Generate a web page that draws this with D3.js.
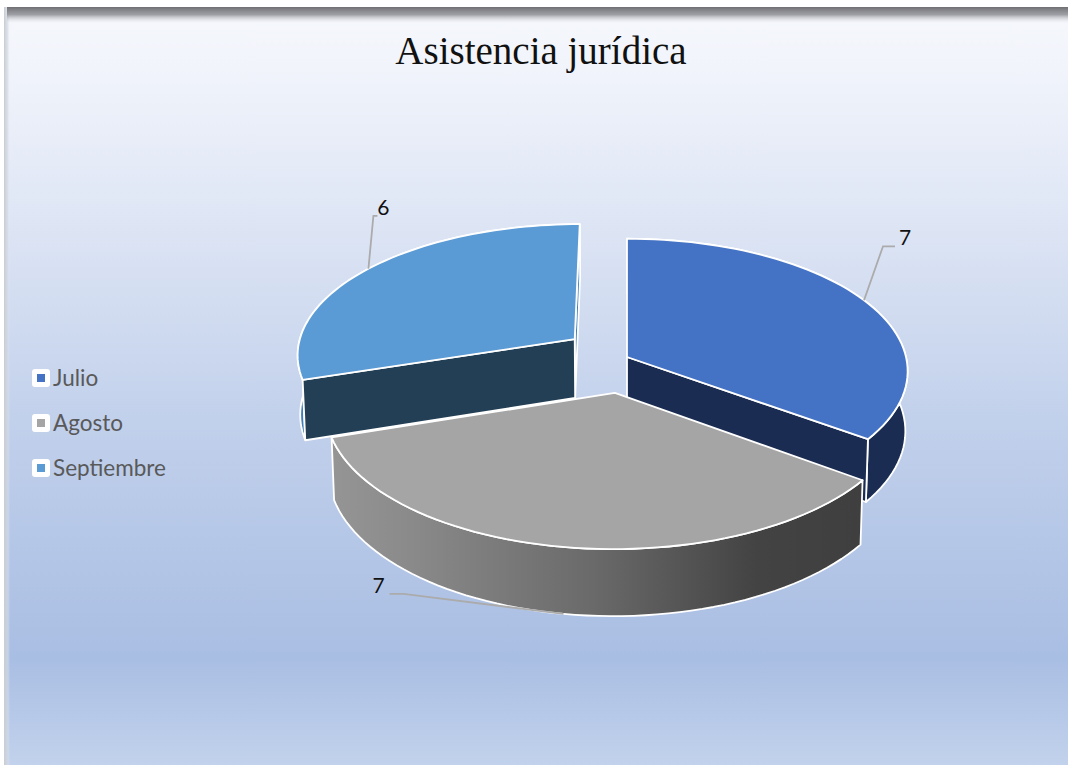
<!DOCTYPE html>
<html>
<head>
<meta charset="utf-8">
<script src="https://d3js.org/d3.v7.min.js"></script>
<style>
    html, body { margin: 0; padding: 0; background: #fff; }
    svg { display: block; }
    text { font-family: Lato, "Open Sans", sans-serif; }
</style>
</head>
<body>
<script>
// DATA ///////////////////////////////////////////////////
const title = "Asistencia jurídica";
const months = ["Julio", "Agosto", "Septiembre"];
const values = [7, 7, 6];

// STYLE / LAYOUT /////////////////////////////////////////
const width = 1068, height = 765;
const topColors = ["#4472C4", "#A5A5A5", "#5B9BD5"];
const wallColors = ["#1A2C52", "#4a4a4a", "#233F55"];
const sideColors = ["#1A2C52", "url(#graySide)", "#3F7FB8"];
const explode = [0, 0.27, 0.235];
const drawOrder = [2, 0, 1];

// pixel offsets from the slice anchor: elbow, line end, label centre
const leaders = [
    { elbow: [19, -54], end: [31, -54], label: [41, -64], z: 0 },
    { elbow: [-160, -20], end: [-174, -20], label: [-185, -29], z: 1 },
    { elbow: [5, -53], end: [9, -53], label: [15, -62], z: 0 }
];

// 3D PROJECTION //////////////////////////////////////////
const cx = 627, cy = 357, rx = 279, ry = 131, depth = 60;
const persp = 0.1075, perspZ = 0.008;

function project(X, Y, Z) {
    const s = 1 / (1 + persp * Y + perspZ * Z);
    return [cx + X * rx * s, cy - Y * ry * s + Z * depth * s];
}

const svg = d3.select("body").append("svg")
    .attr("width", width)
    .attr("height", height);

// BACKGROUND /////////////////////////////////////////////
const defs = svg.append("defs");

function gradient(id, x2, y2, stops) {
    const g = defs.append("linearGradient").attr("id", id)
        .attr("x1", 0).attr("y1", 0).attr("x2", x2).attr("y2", y2);
    stops.forEach(s => g.append("stop").attr("offset", s[0]).attr("stop-color", s[1])
        .attr("stop-opacity", s[2] === undefined ? 1 : s[2]));
}

gradient("bg", 0, 1, [[0, "#F6F8FC"], [0.08, "#F1F4FB"], [0.3, "#DCE4F4"], [0.55, "#C1D0EB"], [0.86, "#A9BEE3"], [1, "#C2D2EC"]]);
gradient("topShade", 0, 1, [[0, "#707074"], [0.45, "#8f9096", 0.85], [1, "#F1F4FB", 0]]);
gradient("leftShade", 1, 0, [[0, "#C9CDD2"], [0.6, "#D4D9E2", 0.7], [1, "#E8ECF6", 0]]);
gradient("graySide", 1, 0, [[0, "#959595"], [0.15, "#8a8a8a"], [0.5, "#696969"], [0.8, "#434343"], [1, "#3f3f3f"]]);

svg.append("rect").attr("x", 4).attr("y", 7).attr("width", width - 4).attr("height", height - 7).attr("fill", "url(#bg)");
svg.append("rect").attr("x", 4).attr("y", 7).attr("width", 6).attr("height", height - 7).attr("fill", "url(#leftShade)");
svg.append("rect").attr("x", 7).attr("y", 7).attr("width", width - 7).attr("height", 17).attr("fill", "url(#topShade)");

svg.append("text")
    .attr("x", 541).attr("y", 64)
    .attr("text-anchor", "middle")
    .attr("font-size", 39)
    .attr("fill", "#111")
    .style("font-family", '"Liberation Serif", serif')
    .text(title);

// PIE ////////////////////////////////////////////////////
const pie = d3.pie().sort(null).startAngle(0).endAngle(2 * Math.PI);
const slices = pie(values);
const line = d3.line();

function rimPoint(d, i, angle, Z) {
    const mid = (d.startAngle + d.endAngle) / 2;
    const X = Math.sin(angle) + explode[i] * Math.sin(mid);
    const Y = Math.cos(angle) + explode[i] * Math.cos(mid);
    return project(X, Y, Z);
}

function apexPoint(d, i, Z) {
    const mid = (d.startAngle + d.endAngle) / 2;
    return project(explode[i] * Math.sin(mid), explode[i] * Math.cos(mid), Z);
}

function rim(d, i, Z) {
    const steps = d3.range(0, 61).map(k => d.startAngle + (d.endAngle - d.startAngle) * k / 60);
    return steps.map(a => rimPoint(d, i, a, Z));
}

const pieG = svg.append("g")
    .attr("stroke", "#fff")
    .attr("stroke-width", 1.8)
    .attr("stroke-linejoin", "round");

drawOrder.forEach(i => {
    const d = slices[i];
    const g = pieG.append("g");

    // outer side
    g.append("path")
        .attr("d", line(rim(d, i, 0).concat(rim(d, i, 1).reverse())) + "Z")
        .attr("fill", sideColors[i]);

    // cut faces: keep only the ones turned to the viewer
    [[d.endAngle, -1], [d.startAngle, 1]].forEach(([a, sign]) => {
        const face = [apexPoint(d, i, 0), rimPoint(d, i, a, 0), rimPoint(d, i, a, 1), apexPoint(d, i, 1)];
        if (d3.polygonArea(face) * sign <= 0) return;
        g.append("path")
            .attr("d", line(face) + "Z")
            .attr("fill", Math.cos(a) < 0 ? wallColors[i] : sideColors[i]);
    });

    // top
    g.append("path")
        .attr("d", line([apexPoint(d, i, 0)].concat(rim(d, i, 0))) + "Z")
        .attr("fill", topColors[i]);
});

// LEADER LINES AND LABELS ////////////////////////////////
slices.forEach((d, i) => {
    const mid = (d.startAngle + d.endAngle) / 2;
    const a = rimPoint(d, i, mid, leaders[i].z);
    const o = leaders[i];
    svg.append("path")
        .attr("d", line([a, [a[0] + o.elbow[0], a[1] + o.elbow[1]], [a[0] + o.end[0], a[1] + o.end[1]]]))
        .attr("fill", "none")
        .attr("stroke", "#ABABAB")
        .attr("stroke-width", 1.8);
    svg.append("text")
        .attr("x", a[0] + o.label[0]).attr("y", a[1] + o.label[1])
        .attr("text-anchor", "middle")
        .attr("dominant-baseline", "central")
        .attr("font-size", 21)
        .attr("fill", "#111")
        .text(d.data);
});

// LEGEND /////////////////////////////////////////////////
const legendY = d3.scalePoint().domain(months).range([377, 467]);

const legend = svg.selectAll("g.legend").data(months).join("g")
    .attr("class", "legend")
    .attr("transform", d => `translate(32,${legendY(d)})`);

legend.append("rect")
    .attr("x", 0).attr("y", -8).attr("width", 18).attr("height", 18).attr("rx", 3)
    .attr("fill", "#fff");
legend.append("rect")
    .attr("x", 5).attr("y", -3).attr("width", 8).attr("height", 8)
    .attr("fill", (d, i) => topColors[i]);
legend.append("text")
    .attr("x", 21).attr("y", 0)
    .attr("dominant-baseline", "central")
    .attr("font-size", 22.5)
    .attr("fill", "#595959")
    .text(d => d);
</script>
</body>
</html>
